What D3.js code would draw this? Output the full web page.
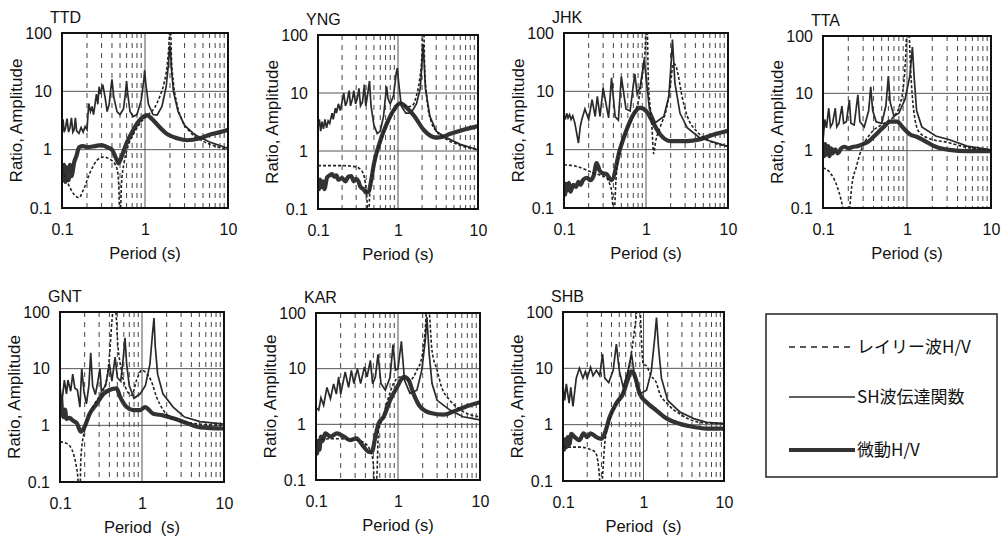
<!DOCTYPE html>
<html lang="ja">
<head>
<meta charset="utf-8">
<title>H/V ratio by station</title>
<script src="https://cdn.jsdelivr.net/npm/d3@7"></script>
<style>
  body { margin: 0; background: #fff; }
  svg { display: block; font-family: "Liberation Sans", Arial, sans-serif; }
  .tick text { font-size: 16px; fill: #111; font-family: "Liberation Sans", Arial, sans-serif; }
  .axis-title { font-size: 16.5px; fill: #111; }
  .y-title { font-size: 17px; }
  .station { font-size: 16px; fill: #111; }
  .frame { fill: none; stroke: #111; stroke-width: 2; }
  .grid-major { stroke: #555; stroke-width: 1; }
  .grid-minor { stroke: #444; stroke-width: 1; stroke-dasharray: 5,5; }
  .rayleigh { fill: none; stroke: #222; stroke-width: 1.6; stroke-dasharray: 3,2; }
  .sh { fill: none; stroke: #2a2a2a; stroke-width: 1.7; }
  .hv { fill: none; stroke: #333; stroke-width: 4.2; stroke-linejoin: round; }
  .legend-box { fill: none; stroke: #222; stroke-width: 1.5; }
  .legend text { font-family: "Noto Sans CJK JP", sans-serif; font-size: 17px; fill: #111; }
</style>
</head>
<body>
<div id="chart"></div>
<script>
// period (s), amplitude pairs
var stations = ["TTD", "YNG", "JHK", "TTA", "GNT", "KAR", "SHB"];
var xTicks = [0.1, 1, 10];
var yTicks = [0.1, 1, 10, 100];
var legendLabels = ["レイリー波H/V", "SH波伝達関数", "微動H/V"];

var ttdRayleigh = [[0.1,0.45],[0.12,0.25],[0.14,0.17],[0.16,0.15],[0.18,0.2],[0.22,0.42],[0.27,0.68],[0.32,0.75],[0.38,0.68],[0.44,0.55],[0.47,0.4],[0.485,0.2],[0.495,0.07],[0.505,0.07],[0.52,0.25],[0.56,0.6],[0.62,1.1],[0.75,2.0],[0.9,3.0],[1.1,4.0],[1.3,5.2],[1.5,8],[1.7,14],[1.85,28],[1.95,70],[1.99,130],[2.03,130],[2.08,40],[2.2,14],[2.4,6.5],[2.8,3.2],[3.5,2.0],[5,1.4],[7,1.15],[10,1.0]];
var ttdSH = [[0.1,2],[0.103,3.3],[0.106,2],[0.11,2.3],[0.115,3.4],[0.12,2],[0.125,2.4],[0.13,3.5],[0.135,2],[0.14,2.2],[0.145,3.5],[0.15,2.1],[0.16,1.9],[0.17,2.4],[0.18,2],[0.19,2.5],[0.2,2.2],[0.21,6.2],[0.22,4.5],[0.23,5.5],[0.24,4],[0.26,9],[0.27,6],[0.28,12],[0.29,9],[0.31,13],[0.33,8],[0.35,4.5],[0.37,6],[0.39,12],[0.4,16],[0.42,8],[0.46,4.5],[0.5,4],[0.55,5],[0.58,9],[0.6,15],[0.62,9],[0.66,4.5],[0.72,3.7],[0.8,4],[0.9,7],[0.97,16],[0.99,23],[1.02,14],[1.1,6],[1.25,4],[1.4,3.9],[1.6,5.5],[1.8,12],[1.92,30],[1.98,60],[2.02,55],[2.08,25],[2.2,10],[2.5,4.5],[3,2.6],[4,1.8],[6,1.35],[10,1.05]];
var ttdHV = [[0.1,0.45],[0.103,0.3],[0.106,0.55],[0.11,0.28],[0.115,0.5],[0.12,0.3],[0.125,0.55],[0.13,0.35],[0.14,0.6],[0.15,0.8],[0.16,1.1],[0.18,1.15],[0.2,1.1],[0.25,1.15],[0.3,1.2],[0.35,1.1],[0.4,1.0],[0.45,0.7],[0.48,0.58],[0.52,0.75],[0.6,1.3],[0.7,2.0],[0.8,2.8],[0.9,3.4],[1.05,3.9],[1.2,3.4],[1.4,2.7],[1.8,1.9],[2.5,1.55],[3.2,1.45],[4.5,1.55],[6,1.8],[8,2.0],[10,2.2]];

var yngRayleigh = [[0.1,0.56],[0.15,0.56],[0.2,0.56],[0.25,0.55],[0.3,0.53],[0.34,0.48],[0.37,0.4],[0.39,0.28],[0.41,0.14],[0.42,0.07],[0.43,0.07],[0.44,0.15],[0.46,0.28],[0.5,0.55],[0.6,1.4],[0.72,2.8],[0.88,5],[1.0,6.5],[1.1,6.8],[1.3,5.8],[1.5,6],[1.7,9],[1.85,16],[1.98,40],[2.05,130],[2.1,130],[2.15,30],[2.3,8],[2.6,3.2],[3.1,2.1],[4,1.6],[6,1.25],[10,1.05]];
var yngSH = [[0.1,2.5],[0.104,3.5],[0.108,2.2],[0.112,3.2],[0.117,2.4],[0.122,3.5],[0.128,2.5],[0.134,3.3],[0.14,3.0],[0.15,4.5],[0.155,3.5],[0.165,5.5],[0.17,4.5],[0.18,6.5],[0.19,5],[0.2,7],[0.21,10],[0.22,6],[0.23,7],[0.245,11],[0.255,6],[0.27,8],[0.28,11],[0.295,6.5],[0.31,8],[0.325,12],[0.34,6],[0.36,7],[0.38,14],[0.395,6],[0.41,8],[0.44,16],[0.46,6],[0.5,2.8],[0.55,2.0],[0.6,2.2],[0.66,4],[0.7,9],[0.72,13],[0.75,8],[0.8,6.5],[0.88,9],[0.95,22],[0.98,27],[1.02,15],[1.1,6],[1.25,4.5],[1.45,4.5],[1.7,6.5],[1.9,12],[2.0,35],[2.06,70],[2.12,35],[2.2,12],[2.5,4],[3,2.2],[4,1.7],[6,1.3],[10,1.05]];
var yngHV = [[0.1,0.28],[0.103,0.22],[0.106,0.32],[0.11,0.24],[0.115,0.3],[0.12,0.22],[0.13,0.35],[0.14,0.38],[0.15,0.4],[0.16,0.36],[0.17,0.38],[0.18,0.32],[0.2,0.34],[0.22,0.3],[0.24,0.36],[0.26,0.37],[0.28,0.3],[0.3,0.33],[0.32,0.3],[0.34,0.24],[0.37,0.22],[0.4,0.19],[0.43,0.2],[0.46,0.3],[0.5,0.6],[0.6,1.5],[0.72,2.9],[0.88,5],[1.06,6.6],[1.3,5.5],[1.6,4],[2.1,2.3],[3,1.7],[3.6,1.75],[4.6,2],[6.4,2.3],[10,2.7]];

var jhkRayleigh = [[0.1,0.55],[0.14,0.52],[0.21,0.42],[0.27,0.37],[0.33,0.33],[0.36,0.26],[0.38,0.2],[0.395,0.1],[0.405,0.06],[0.415,0.1],[0.43,0.3],[0.48,1.0],[0.58,2.2],[0.7,3.7],[0.85,10],[0.93,27],[0.98,60],[1.0,130],[1.03,130],[1.07,14],[1.13,5],[1.18,2.5],[1.24,0.85],[1.3,1.3],[1.5,2.5],[1.8,5.5],[2.0,14],[2.15,30],[2.3,28],[2.45,20],[2.75,8.2],[3.2,3.7],[4.1,2.1],[5.5,1.5],[10,1.14]];
var jhkSH = [[0.1,4],[0.104,3.3],[0.108,4.2],[0.112,3.5],[0.117,4],[0.122,3.3],[0.128,3.8],[0.136,2.8],[0.15,1.3],[0.158,2.5],[0.165,3.3],[0.18,5],[0.2,3.3],[0.22,7.2],[0.24,3.7],[0.255,8.2],[0.275,3.7],[0.3,11.4],[0.33,5.5],[0.35,3.5],[0.38,17],[0.42,3.7],[0.46,3.2],[0.5,18],[0.57,5],[0.64,4.6],[0.73,20],[0.78,9],[0.85,12],[0.95,35],[1.02,14],[1.1,5],[1.3,2.9],[1.65,3.7],[1.9,8.2],[2.05,40],[2.1,77],[2.16,40],[2.25,14],[2.6,4.2],[3.2,2.35],[4.5,1.6],[10,1.14]];
var jhkHV = [[0.1,0.22],[0.103,0.17],[0.106,0.26],[0.11,0.2],[0.115,0.27],[0.12,0.19],[0.13,0.25],[0.14,0.23],[0.15,0.28],[0.16,0.25],[0.17,0.3],[0.19,0.33],[0.21,0.3],[0.23,0.36],[0.25,0.59],[0.27,0.45],[0.29,0.4],[0.33,0.38],[0.38,0.3],[0.48,1.0],[0.58,2.2],[0.7,4.0],[0.85,5.2],[1.02,4.5],[1.22,2.9],[1.5,1.8],[2.0,1.4],[3.2,1.4],[4.5,1.5],[6.6,1.8],[10,2.1]];

var ttaRayleigh = [[0.1,0.5],[0.122,0.41],[0.147,0.24],[0.162,0.15],[0.172,0.1],[0.18,0.06],[0.2,0.06],[0.208,0.1],[0.22,0.24],[0.25,0.53],[0.29,1.1],[0.37,2],[0.53,3],[0.69,3.9],[0.83,6.6],[0.91,14],[0.96,38],[1.0,130],[1.05,130],[1.1,29],[1.15,10],[1.25,3.4],[1.4,2.1],[1.9,1.6],[3,1.4],[5,1.15],[10,1.03]];
var ttaSH = [[0.1,1.5],[0.105,3.5],[0.11,2.5],[0.117,5.5],[0.123,2.6],[0.13,3],[0.14,5.5],[0.146,2.6],[0.155,3],[0.168,6],[0.176,3],[0.19,3.2],[0.206,7.6],[0.215,3],[0.235,2.8],[0.26,9.4],[0.275,3.2],[0.31,2.6],[0.35,5],[0.37,13],[0.39,5],[0.43,3.2],[0.5,3],[0.56,6],[0.6,20],[0.63,7],[0.7,4],[0.8,4.5],[0.95,8],[1.08,20],[1.16,64],[1.22,18],[1.3,5],[1.5,2.6],[2.2,1.8],[3.2,1.55],[5.2,1.2],[10,1.03]];
var ttaHV = [[0.1,1.0],[0.103,0.8],[0.106,1.3],[0.11,0.85],[0.115,1.2],[0.12,0.8],[0.125,1.1],[0.13,0.9],[0.14,1.05],[0.15,0.9],[0.165,1.1],[0.18,1.17],[0.2,1.1],[0.23,1.17],[0.26,1.2],[0.3,1.3],[0.35,1.45],[0.4,1.75],[0.53,2.6],[0.63,3.2],[0.76,3.2],[0.91,2.45],[1.1,1.9],[1.3,1.75],[1.6,1.5],[2.2,1.17],[3.2,1.03],[5.2,0.98],[10,0.98]];

var gntRayleigh = [[0.1,0.51],[0.12,0.48],[0.14,0.37],[0.156,0.21],[0.165,0.12],[0.17,0.06],[0.175,0.06],[0.18,0.28],[0.2,0.83],[0.24,1.86],[0.3,3.2],[0.37,6.3],[0.4,16],[0.43,70],[0.45,130],[0.47,130],[0.51,24],[0.56,9.4],[0.65,4.2],[0.75,3.4],[0.86,6.3],[1.0,9.4],[1.14,8.2],[1.3,6],[1.5,3.2],[1.8,1.9],[2.6,1.24],[5,1.05],[10,1.0]];
var gntSH = [[0.1,5],[0.105,2.4],[0.113,6.3],[0.12,3.6],[0.125,6.3],[0.135,4],[0.143,8],[0.152,4.5],[0.163,4.2],[0.175,2.1],[0.184,10],[0.197,3.7],[0.21,2.4],[0.225,5],[0.237,19],[0.25,5],[0.27,3.5],[0.29,6],[0.307,10],[0.32,4],[0.36,5],[0.4,12],[0.43,6],[0.47,16],[0.5,7],[0.55,6],[0.59,15],[0.62,35],[0.65,12],[0.7,5],[0.8,3.0],[0.95,3.6],[1.1,5],[1.25,12],[1.34,40],[1.4,78],[1.45,25],[1.55,8],[1.8,3.6],[2.4,2.1],[3.3,1.4],[5.1,1.16],[10,1.05]];
var gntHV = [[0.1,2.1],[0.103,3],[0.106,1.7],[0.11,1.4],[0.115,1.9],[0.12,1.3],[0.13,1.35],[0.145,1.2],[0.16,1.1],[0.18,0.77],[0.2,0.95],[0.23,1.6],[0.28,2.4],[0.34,3.6],[0.4,4.2],[0.49,4.5],[0.54,3.2],[0.65,2.1],[0.78,1.86],[0.95,1.86],[1.09,2.1],[1.37,1.6],[1.8,1.5],[2.4,1.33],[3.5,1.1],[5.1,0.92],[10,0.88]];

var karRayleigh = [[0.1,0.52],[0.15,0.55],[0.2,0.55],[0.25,0.53],[0.3,0.52],[0.35,0.5],[0.4,0.45],[0.46,0.33],[0.5,0.2],[0.51,0.1],[0.53,0.06],[0.55,0.1],[0.58,0.8],[0.64,1.2],[0.73,2.4],[0.88,5.4],[1.06,7.1],[1.28,6.2],[1.4,6.2],[1.7,9.4],[1.95,16],[2.15,50],[2.25,130],[2.35,130],[2.6,21],[3.0,9.4],[3.4,4.7],[4.3,2.7],[6.2,1.7],[10,1.37]];
var karSH = [[0.1,2.0],[0.108,1.8],[0.115,3],[0.124,2.2],[0.136,4.6],[0.15,2.9],[0.164,5.3],[0.177,3.5],[0.189,7.1],[0.2,3.5],[0.227,8.7],[0.25,4.6],[0.27,9.3],[0.29,5.4],[0.32,10],[0.35,5.4],[0.39,10.7],[0.42,7.1],[0.46,14],[0.49,5.4],[0.53,7.1],[0.57,18],[0.62,5.4],[0.7,4.1],[0.8,7],[0.87,27],[0.93,9.4],[1.0,10],[1.1,31],[1.2,6.2],[1.4,3.6],[1.7,4.1],[1.95,9.4],[2.15,32],[2.25,85],[2.4,18.5],[2.6,5.4],[3.0,2.7],[4.3,1.8],[6.2,1.37],[10,1.2]];
var karHV = [[0.1,0.4],[0.103,0.3],[0.106,0.5],[0.11,0.35],[0.115,0.6],[0.12,0.5],[0.13,0.69],[0.15,0.6],[0.18,0.69],[0.22,0.6],[0.26,0.52],[0.31,0.56],[0.38,0.4],[0.44,0.32],[0.48,0.32],[0.53,0.6],[0.58,1.04],[0.67,1.37],[0.8,2.7],[0.97,4.6],[1.18,7.1],[1.35,6.2],[1.54,3.6],[1.85,2.1],[2.5,1.6],[3.6,1.5],[5.2,1.8],[7.5,2.2],[10,2.5]];

var shbRayleigh = [[0.1,0.4],[0.16,0.4],[0.21,0.37],[0.25,0.33],[0.27,0.23],[0.28,0.15],[0.29,0.08],[0.3,0.06],[0.31,0.12],[0.33,0.46],[0.38,1.2],[0.46,2.4],[0.56,4.1],[0.64,8.8],[0.7,17],[0.8,70],[0.85,130],[0.9,130],[0.94,35],[0.99,12],[1.09,11],[1.25,7.3],[1.44,5.6],[1.6,3.5],[1.95,2.4],[2.8,1.56],[5,1.1],[10,1.04]];
var shbSH = [[0.1,5],[0.105,2.7],[0.11,5.3],[0.119,2.4],[0.125,4.6],[0.133,2.1],[0.146,6.7],[0.16,10],[0.177,6.7],[0.19,8.8],[0.2,6.7],[0.22,10.5],[0.236,7.4],[0.26,9.2],[0.286,7.4],[0.31,18],[0.33,6.7],[0.37,5.6],[0.42,9.2],[0.46,27],[0.5,9.2],[0.56,4.6],[0.64,8.8],[0.71,18],[0.78,6.7],[0.9,3.5],[1.09,4.1],[1.25,8.8],[1.38,35],[1.45,80],[1.54,23],[1.67,6.7],[2.0,2.7],[2.8,1.7],[4.2,1.28],[6.1,1.1],[10,1.04]];
var shbHV = [[0.1,0.46],[0.103,0.36],[0.106,0.55],[0.11,0.4],[0.115,0.6],[0.12,0.45],[0.127,0.69],[0.14,0.6],[0.16,0.53],[0.18,0.7],[0.2,0.6],[0.22,0.7],[0.26,0.6],[0.3,0.56],[0.33,0.7],[0.38,1.37],[0.46,2.4],[0.56,3.6],[0.64,6.4],[0.7,8.8],[0.78,7.3],[0.9,3.5],[1.09,2.5],[1.44,1.8],[1.95,1.28],[2.8,1.04],[4.2,0.91],[6.1,0.85],[10,0.85]];

var rayleighSeries = [ttdRayleigh, yngRayleigh, jhkRayleigh, ttaRayleigh, gntRayleigh, karRayleigh, shbRayleigh];
var shSeries = [ttdSH, yngSH, jhkSH, ttaSH, gntSH, karSH, shbSH];
var hvSeries = [ttdHV, yngHV, jhkHV, ttaHV, gntHV, karHV, shbHV];

// plot frames: left, top, right, bottom
var frames = [[62,33,228,208],[318,35,478,209],[564,33,728,208],[823,36,991,208],
              [60,312,224,482],[316,313,480,480],[563,312,724,481]];
var xTitles = ["Period (s)","Period (s)","Period (s)","Period (s)","Period \u00a0(s)","Period (s)","Period \u00a0(s)"];

var svg = d3.select("#chart").append("svg")
    .attr("width", 1005)
    .attr("height", 541);

svg.append("rect").attr("width", 1005).attr("height", 541).attr("fill", "#fff");

frames.forEach(function(f, i) {
  var w = f[2] - f[0], h = f[3] - f[1];
  var x = d3.scaleLog().domain([0.1, 10]).range([0, w]);
  var y = d3.scaleLog().domain([0.1, 100]).range([h, 0]);
  var g = svg.append("g").attr("transform", "translate(" + f[0] + "," + f[1] + ")");

  g.append("clipPath").attr("id", "clip" + i)
    .append("rect").attr("width", w).attr("height", h);

  var isDecade = function(t) { return Math.abs(Math.log10(t) - Math.round(Math.log10(t))) < 1e-6; };

  // minor vertical grid (dashed)
  g.selectAll(".grid-minor")
    .data(x.ticks().filter(function(t) { return !isDecade(t); }))
    .enter().append("line")
      .attr("class", "grid-minor")
      .attr("x1", function(d) { return x(d); }).attr("x2", function(d) { return x(d); })
      .attr("y1", 0).attr("y2", h);

  g.append("line").attr("class", "grid-major")
    .attr("x1", x(1)).attr("x2", x(1)).attr("y1", 0).attr("y2", h);
  g.selectAll(".grid-h")
    .data([1, 10])
    .enter().append("line")
      .attr("class", "grid-major")
      .attr("x1", 0).attr("x2", w)
      .attr("y1", function(d) { return y(d); }).attr("y2", function(d) { return y(d); });

  var smooth = d3.line()
    .x(function(d) { return x(d[0]); })
    .y(function(d) { return y(d[1]); })
    .curve(d3.curveMonotoneX);
  var straight = d3.line()
    .x(function(d) { return x(d[0]); })
    .y(function(d) { return y(d[1]); });

  var lines = g.append("g").attr("clip-path", "url(#clip" + i + ")");
  lines.append("path").attr("class", "hv").attr("d", smooth(hvSeries[i]));
  lines.append("path").attr("class", "sh").attr("d", straight(shSeries[i]));
  lines.append("path").attr("class", "rayleigh").attr("d", smooth(rayleighSeries[i]));

  g.append("rect").attr("class", "frame").attr("width", w).attr("height", h);

  var xAxis = g.append("g")
    .attr("transform", "translate(0," + h + ")")
    .call(d3.axisBottom(x).tickValues(xTicks).tickFormat(String).tickSize(0).tickPadding(16));
  xAxis.select(".domain").remove();

  var yAxis = g.append("g")
    .call(d3.axisLeft(y).tickValues(yTicks).tickFormat(String).tickSize(0).tickPadding(10));
  yAxis.select(".domain").remove();

  g.append("text").attr("class", "axis-title")
    .attr("x", w / 2).attr("y", h + 51)
    .attr("text-anchor", "middle")
    .text(xTitles[i]);

  g.append("text").attr("class", "axis-title y-title")
    .attr("transform", "rotate(-90)")
    .attr("x", -h / 2).attr("y", -40)
    .attr("text-anchor", "middle")
    .text("Ratio, Amplitude");

  g.append("text").attr("class", "station")
    .attr("x", -12).attr("y", -10)
    .text(stations[i]);
});

// legend
var legend = svg.append("g").attr("class", "legend");
legend.append("rect").attr("class", "legend-box")
  .attr("x", 766).attr("y", 314).attr("width", 231).attr("height", 163);

var legendStyles = ["rayleigh", "sh", "hv"];
var legendY = [347, 397, 450];
legendLabels.forEach(function(label, k) {
  legend.append("line")
    .attr("class", legendStyles[k])
    .attr("x1", 789).attr("x2", 855)
    .attr("y1", legendY[k]).attr("y2", legendY[k])
    .style("stroke-dasharray", k === 0 ? "6,5" : null);
  legend.append("text")
    .attr("x", 857).attr("y", legendY[k])
    .attr("dy", "0.35em")
    .text(label);
});
</script>
</body>
</html>
